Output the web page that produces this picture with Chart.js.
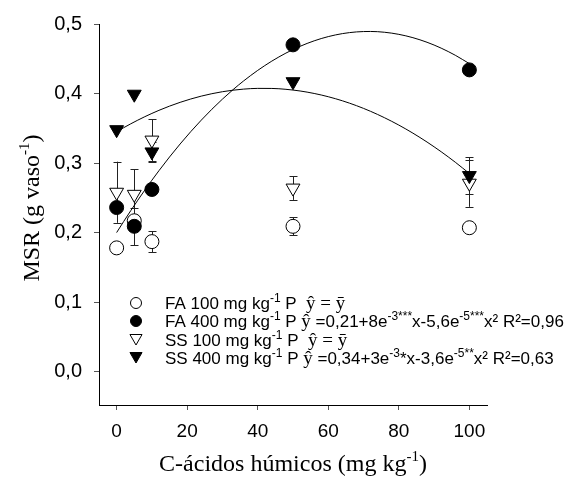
<!DOCTYPE html>
<html><head><meta charset="utf-8">
<script src="https://cdn.jsdelivr.net/npm/chart.js@4.4.1/dist/chart.umd.min.js"></script>
<style>html,body{margin:0;padding:0;background:#fff}#wrap{width:587px;height:486px;position:relative}canvas{display:block}</style>
</head><body><div id="wrap"><canvas id="c" width="587" height="486" style="width:587px;height:486px"></canvas></div>
<script>
// ---- data ----
const doses = [0, 5, 10, 50, 100];
const fa100 = [0.178, 0.217, 0.187, 0.209, 0.207];
const fa100Err = [0, 0, 0.015, 0.013, 0];
const fa400 = [0.236, 0.209, 0.262, 0.470, 0.434];
const fa400Err = [0, 0.027, 0, 0, 0];
const ss100 = [0.258, 0.255, 0.333, 0.264, 0.271];
const ss100Err = [0.044, 0.036, 0.030, 0.017, 0.034];
const ss400 = [0.348, 0.399, 0.316, 0.417, 0.282];
const ss400Err = [0, 0, 0.014, 0, 0.026];
// regression coefficients [a, b, c] for y = a + b x + c x^2
const fa400Fit = [0.20, 0.0081, -0.0000567];
const ss400Fit = [0.345, 0.003, -0.000036];
const fitX = [0,2,4,6,8,10,12,15,18,21,24,27,30,33,36,40,44,48,52,56,60,64,68,72,76,80,84,88,92,96,100];
const xTicks = [0, 20, 40, 60, 80, 100];
const yTicks = [0, 0.1, 0.2, 0.3, 0.4, 0.5];
const xTitle = [{t:'C-ácidos húmicos (mg kg'},{t:'-1',sup:true},{t:')'}];
const yTitle = [{t:'MSR (g vaso'},{t:'-1',sup:true},{t:')'}];

const SANS = '"Liberation Sans", Arial, sans-serif';
const SERIF = '"Liberation Serif", "Times New Roman", "DejaVu Serif", serif';

const pts = (ys) => doses.map((x, i) => ({x, y: ys[i]}));
const fitPts = (c) => fitX.map(x => ({x, y: c[0] + c[1]*x + c[2]*x*x}));

const legendRows = [
  {style:'circle', fill:'#fff', segs:[{t:'FA 100 mg kg'},{t:'-1',sup:true},{t:' P  '},{t:'ŷ',serif:true},{t:' = ',serif:true},{t:'ȳ',serif:true}]},
  {style:'circle', fill:'#000', segs:[{t:'FA 400 mg kg'},{t:'-1',sup:true},{t:' P '},{t:'ŷ',serif:true},{t:' =0,21+8e'},{t:'-3***',sup:true},{t:'x-5,6e'},{t:'-5***',sup:true},{t:'x² R²=0,96'}]},
  {style:'tri', fill:'#fff', segs:[{t:'SS 100 mg kg'},{t:'-1',sup:true},{t:' P  '},{t:'ŷ',serif:true},{t:' = ',serif:true},{t:'ȳ',serif:true}]},
  {style:'tri', fill:'#000', segs:[{t:'SS 400 mg kg'},{t:'-1',sup:true},{t:' P '},{t:'ŷ',serif:true},{t:' =0,34+3e'},{t:'-3',sup:true},{t:'*x-3,6e'},{t:'-5**',sup:true},{t:'x² R²=0,63'}]}
];

function drawMarker(ctx, style, fill, x, y, r) {
  ctx.save();
  ctx.beginPath();
  if (style === 'circle') {
    ctx.arc(x, y, r, 0, Math.PI*2);
  } else {
    const w = r * 0.866;
    ctx.moveTo(x - w, y - r*0.5);
    ctx.lineTo(x + w, y - r*0.5);
    ctx.lineTo(x, y + r);
    ctx.closePath();
  }
  ctx.fillStyle = fill; ctx.fill();
  ctx.strokeStyle = '#000'; ctx.lineWidth = 1; ctx.stroke();
  ctx.restore();
}

function richWidth(ctx, segs, size, supSize, serifMain) {
  let w = 0;
  for (const s of segs) {
    ctx.font = (s.sup ? supSize : size) + 'px ' + ((s.serif || serifMain) ? SERIF : SANS);
    w += ctx.measureText(s.t).width;
  }
  return w;
}
function drawRich(ctx, x, y, segs, size, supSize, supRise, serifMain) {
  for (const s of segs) {
    const sz = s.sup ? supSize : (s.serif && !serifMain ? size + 2 : size);
    ctx.font = sz + 'px ' + ((s.serif || serifMain) ? SERIF : SANS);
    ctx.fillText(s.t, x, s.sup ? y - supRise : y);
    x += ctx.measureText(s.t).width;
  }
}

const errorBars = {
  id: 'errorBars',
  beforeDatasetsDraw(chart) {
    const {ctx, scales: {x, y}} = chart;
    const sets = [[fa100, fa100Err], [fa400, fa400Err], [ss100, ss100Err], [ss400, ss400Err]];
    ctx.save();
    ctx.strokeStyle = '#222'; ctx.lineWidth = 1;
    for (const [vals, errs] of sets) {
      doses.forEach((d, i) => {
        if (!errs[i]) return;
        const px = Math.round(x.getPixelForValue(d)) + 0.5;
        const y1 = y.getPixelForValue(vals[i] + errs[i]);
        const y2 = y.getPixelForValue(vals[i] - errs[i]);
        ctx.beginPath();
        ctx.moveTo(px, y1); ctx.lineTo(px, y2);
        ctx.moveTo(px - 4, Math.round(y1) + 0.5); ctx.lineTo(px + 4, Math.round(y1) + 0.5);
        ctx.moveTo(px - 4, Math.round(y2) + 0.5); ctx.lineTo(px + 4, Math.round(y2) + 0.5);
        ctx.stroke();
      });
    }
    ctx.restore();
  }
};

const decor = {
  id: 'decor',
  afterDraw(chart) {
    const ctx = chart.ctx;
    ctx.save();
    ctx.fillStyle = '#000';
    ctx.textBaseline = 'alphabetic';
    // legend
    const rowY = [303, 321, 340, 358];
    legendRows.forEach((r, i) => {
      const cy = rowY[i];
      drawMarker(ctx, r.style, r.fill, 136, r.style === 'tri' ? cy - 2 : cy, r.style === 'tri' ? 7 : 5.5);
      ctx.fillStyle = '#000';
      drawRich(ctx, 165, cy + 6, r.segs, 17, 12, 7, false);
    });
    // x title
    const xs = 24, xsup = 15;
    const xw = richWidth(ctx, xTitle, xs, xsup, true);
    const area = chart.chartArea;
    const xc = (area.left + area.right) / 2;
    drawRich(ctx, xc - xw/2, 471, xTitle, xs, xsup, 10, true);
    // y title
    const yw = richWidth(ctx, yTitle, xs, xsup, true);
    ctx.translate(39, 208);
    ctx.rotate(-Math.PI/2);
    drawRich(ctx, -yw/2, 0, yTitle, xs, xsup, 10, true);
    ctx.restore();
  }
};

const lineDs = (data, order) => ({
  type: 'line', data, borderColor: '#000', borderWidth: 1, pointRadius: 0,
  fill: false, tension: 0.4, cubicInterpolationMode: 'monotone', order
});
const ptDs = (label, data, style, fill, r, order) => ({
  type: 'scatter', label, data, pointStyle: style, pointRotation: style === 'triangle' ? 180 : 0,
  pointRadius: r, pointHoverRadius: r, backgroundColor: fill, borderColor: '#000', borderWidth: 1, order
});

new Chart(document.getElementById('c'), {
  data: {
    datasets: [
      lineDs(fitPts(fa400Fit), 10),
      lineDs(fitPts(ss400Fit), 11),
      ptDs('FA 100', pts(fa100), 'circle', '#fff', 7, 4),
      ptDs('FA 400', pts(fa400), 'circle', '#000', 7, 3),
      ptDs('SS 100', pts(ss100), 'triangle', '#fff', 8, 2),
      ptDs('SS 400', pts(ss400), 'triangle', '#000', 8, 1)
    ]
  },
  options: {
    responsive: false, animation: false, devicePixelRatio: 1,
    layout: {padding: {left: 0, right: 100, top: 18, bottom: 0}},
    plugins: {legend: {display: false}, tooltip: {enabled: false}},
    scales: {
      x: {
        type: 'linear', min: -5, max: 105,
        afterBuildTicks: s => { s.ticks = xTicks.map(v => ({value: v})); },
        afterFit: s => { s.height = 81; },
        grid: {display: true, drawOnChartArea: false, drawTicks: true, tickLength: 5, color: '#555'},
        border: {display: true, color: '#000', width: 1},
        ticks: {color: '#000', font: {family: SANS, size: 19}, padding: 10, maxRotation: 0}
      },
      y: {
        type: 'linear', min: -0.048, max: 0.5,
        afterBuildTicks: s => { s.ticks = yTicks.map(v => ({value: v})); },
        afterFit: s => { s.width = 99; },
        grid: {display: true, drawOnChartArea: false, drawTicks: true, tickLength: 5, color: '#555'},
        border: {display: true, color: '#000', width: 1},
        ticks: {color: '#000', font: {family: SANS, size: 20}, padding: 12,
          callback: v => v.toFixed(1).replace('.', ',')}
      }
    }
  },
  plugins: [errorBars, decor]
});
</script></body></html>
